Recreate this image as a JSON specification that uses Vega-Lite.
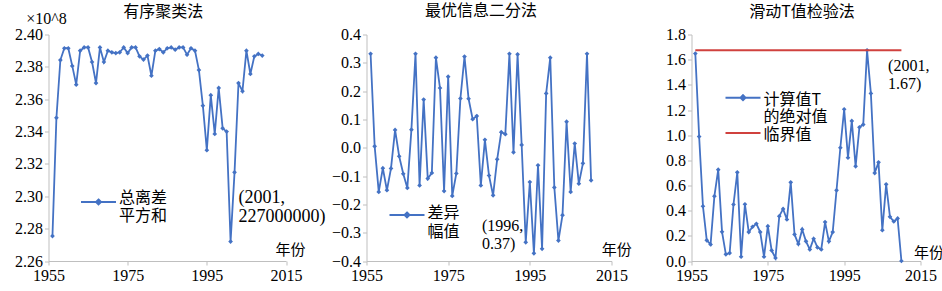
{
  "$schema": "https://vega.github.io/schema/vega-lite/v6.json",
  "background": "white",
  "padding": {"left": 14.5, "top": 2.5, "right": 0, "bottom": 0},
  "bounds": "flush",
  "spacing": 80,
  "resolve": {"scale": {"color": "independent", "stroke": "independent"}, "legend": {"color": "independent", "stroke": "independent"}},
  "config": {
    "view": {"stroke": null},
    "font": "Times New Roman, Liberation Serif, serif",
    "axis": {"domainColor": "#BFBFBF", "tickColor": "#BFBFBF", "tickSize": 4, "grid": false, "labelFont": "Times New Roman, Liberation Serif, serif", "labelFontSize": 16, "labelColor": "#000000", "labelPadding": 2, "labelFlush": false, "labelOverlap": false, "titleFontWeight": "normal", "titleColor": "#000000"},
    "title": {"font": "Noto Sans CJK SC", "fontSize": 16, "fontWeight": "normal", "color": "#000000"},
    "legend": {"labelFont": "Noto Sans CJK SC", "labelFontSize": 16, "labelColor": "#000000", "labelLimit": 0, "labelOffset": 2, "padding": 0, "symbolSize": 1225, "symbolStrokeWidth": 2, "rowPadding": 4}
  },
  "datasets": {
    "p1": [
      {"year": 1956, "value": 2.2754, "series": "总离差|平方和"},
      {"year": 1957, "value": 2.3485, "series": "总离差|平方和"},
      {"year": 1958, "value": 2.3842, "series": "总离差|平方和"},
      {"year": 1959, "value": 2.3915, "series": "总离差|平方和"},
      {"year": 1960, "value": 2.3915, "series": "总离差|平方和"},
      {"year": 1961, "value": 2.3806, "series": "总离差|平方和"},
      {"year": 1962, "value": 2.3690, "series": "总离差|平方和"},
      {"year": 1963, "value": 2.3900, "series": "总离差|平方和"},
      {"year": 1964, "value": 2.3920, "series": "总离差|平方和"},
      {"year": 1965, "value": 2.3920, "series": "总离差|平方和"},
      {"year": 1966, "value": 2.3830, "series": "总离差|平方和"},
      {"year": 1967, "value": 2.3700, "series": "总离差|平方和"},
      {"year": 1968, "value": 2.3920, "series": "总离差|平方和"},
      {"year": 1969, "value": 2.3830, "series": "总离差|平方和"},
      {"year": 1970, "value": 2.3900, "series": "总离差|平方和"},
      {"year": 1971, "value": 2.3890, "series": "总离差|平方和"},
      {"year": 1972, "value": 2.3885, "series": "总离差|平方和"},
      {"year": 1973, "value": 2.3890, "series": "总离差|平方和"},
      {"year": 1974, "value": 2.3920, "series": "总离差|平方和"},
      {"year": 1975, "value": 2.3885, "series": "总离差|平方和"},
      {"year": 1976, "value": 2.3920, "series": "总离差|平方和"},
      {"year": 1977, "value": 2.3920, "series": "总离差|平方和"},
      {"year": 1978, "value": 2.3865, "series": "总离差|平方和"},
      {"year": 1979, "value": 2.3845, "series": "总离差|平方和"},
      {"year": 1980, "value": 2.3870, "series": "总离差|平方和"},
      {"year": 1981, "value": 2.3745, "series": "总离差|平方和"},
      {"year": 1982, "value": 2.3900, "series": "总离差|平方和"},
      {"year": 1983, "value": 2.3910, "series": "总离差|平方和"},
      {"year": 1984, "value": 2.3890, "series": "总离差|平方和"},
      {"year": 1985, "value": 2.3915, "series": "总离差|平方和"},
      {"year": 1986, "value": 2.3920, "series": "总离差|平方和"},
      {"year": 1987, "value": 2.3906, "series": "总离差|平方和"},
      {"year": 1988, "value": 2.3920, "series": "总离差|平方和"},
      {"year": 1989, "value": 2.3920, "series": "总离差|平方和"},
      {"year": 1990, "value": 2.3875, "series": "总离差|平方和"},
      {"year": 1991, "value": 2.3915, "series": "总离差|平方和"},
      {"year": 1992, "value": 2.3900, "series": "总离差|平方和"},
      {"year": 1993, "value": 2.3780, "series": "总离差|平方和"},
      {"year": 1994, "value": 2.3560, "series": "总离差|平方和"},
      {"year": 1995, "value": 2.3285, "series": "总离差|平方和"},
      {"year": 1996, "value": 2.3625, "series": "总离差|平方和"},
      {"year": 1997, "value": 2.3385, "series": "总离差|平方和"},
      {"year": 1998, "value": 2.3670, "series": "总离差|平方和"},
      {"year": 1999, "value": 2.3420, "series": "总离差|平方和"},
      {"year": 2000, "value": 2.3400, "series": "总离差|平方和"},
      {"year": 2001, "value": 2.2720, "series": "总离差|平方和"},
      {"year": 2002, "value": 2.3148, "series": "总离差|平方和"},
      {"year": 2003, "value": 2.3700, "series": "总离差|平方和"},
      {"year": 2004, "value": 2.3650, "series": "总离差|平方和"},
      {"year": 2005, "value": 2.3900, "series": "总离差|平方和"},
      {"year": 2006, "value": 2.3756, "series": "总离差|平方和"},
      {"year": 2007, "value": 2.3865, "series": "总离差|平方和"},
      {"year": 2008, "value": 2.3880, "series": "总离差|平方和"},
      {"year": 2009, "value": 2.3870, "series": "总离差|平方和"}
    ],
    "p2": [
      {"year": 1956, "value": 0.332, "series": "差异|幅值"},
      {"year": 1957, "value": 0.005, "series": "差异|幅值"},
      {"year": 1958, "value": -0.156, "series": "差异|幅值"},
      {"year": 1959, "value": -0.072, "series": "差异|幅值"},
      {"year": 1960, "value": -0.150, "series": "差异|幅值"},
      {"year": 1961, "value": -0.073, "series": "差异|幅值"},
      {"year": 1962, "value": 0.063, "series": "差异|幅值"},
      {"year": 1963, "value": -0.030, "series": "差异|幅值"},
      {"year": 1964, "value": -0.092, "series": "差异|幅值"},
      {"year": 1965, "value": -0.142, "series": "差异|幅值"},
      {"year": 1966, "value": 0.064, "series": "差异|幅值"},
      {"year": 1967, "value": 0.332, "series": "差异|幅值"},
      {"year": 1968, "value": -0.133, "series": "差异|幅值"},
      {"year": 1969, "value": 0.170, "series": "差异|幅值"},
      {"year": 1970, "value": -0.109, "series": "差异|幅值"},
      {"year": 1971, "value": -0.089, "series": "差异|幅值"},
      {"year": 1972, "value": 0.318, "series": "差异|幅值"},
      {"year": 1973, "value": 0.211, "series": "差异|幅值"},
      {"year": 1974, "value": -0.153, "series": "差异|幅值"},
      {"year": 1975, "value": 0.251, "series": "差异|幅值"},
      {"year": 1976, "value": -0.170, "series": "差异|幅值"},
      {"year": 1977, "value": -0.091, "series": "差异|幅值"},
      {"year": 1978, "value": 0.174, "series": "差异|幅值"},
      {"year": 1979, "value": 0.322, "series": "差异|幅值"},
      {"year": 1980, "value": 0.173, "series": "差异|幅值"},
      {"year": 1981, "value": 0.101, "series": "差异|幅值"},
      {"year": 1982, "value": 0.112, "series": "差异|幅值"},
      {"year": 1983, "value": -0.133, "series": "差异|幅值"},
      {"year": 1984, "value": 0.028, "series": "差异|幅值"},
      {"year": 1985, "value": -0.098, "series": "差异|幅值"},
      {"year": 1986, "value": -0.168, "series": "差异|幅值"},
      {"year": 1987, "value": -0.041, "series": "差异|幅值"},
      {"year": 1988, "value": 0.055, "series": "差异|幅值"},
      {"year": 1989, "value": 0.048, "series": "差异|幅值"},
      {"year": 1990, "value": 0.332, "series": "差异|幅值"},
      {"year": 1991, "value": -0.016, "series": "差异|幅值"},
      {"year": 1992, "value": 0.330, "series": "差异|幅值"},
      {"year": 1993, "value": 0.010, "series": "差异|幅值"},
      {"year": 1994, "value": -0.334, "series": "差异|幅值"},
      {"year": 1995, "value": -0.121, "series": "差异|幅值"},
      {"year": 1996, "value": -0.373, "series": "差异|幅值"},
      {"year": 1997, "value": -0.062, "series": "差异|幅值"},
      {"year": 1998, "value": -0.357, "series": "差异|幅值"},
      {"year": 1999, "value": 0.192, "series": "差异|幅值"},
      {"year": 2000, "value": 0.318, "series": "差异|幅值"},
      {"year": 2001, "value": -0.140, "series": "差异|幅值"},
      {"year": 2002, "value": -0.328, "series": "差异|幅值"},
      {"year": 2003, "value": -0.238, "series": "差异|幅值"},
      {"year": 2004, "value": 0.092, "series": "差异|幅值"},
      {"year": 2005, "value": -0.156, "series": "差异|幅值"},
      {"year": 2006, "value": 0.015, "series": "差异|幅值"},
      {"year": 2007, "value": -0.127, "series": "差异|幅值"},
      {"year": 2008, "value": -0.055, "series": "差异|幅值"},
      {"year": 2009, "value": 0.332, "series": "差异|幅值"},
      {"year": 2010, "value": -0.115, "series": "差异|幅值"}
    ],
    "p3": [
      {"year": 1956, "value": 1.649, "series": "计算值T|的绝对值"},
      {"year": 1957, "value": 0.989, "series": "计算值T|的绝对值"},
      {"year": 1958, "value": 0.435, "series": "计算值T|的绝对值"},
      {"year": 1959, "value": 0.164, "series": "计算值T|的绝对值"},
      {"year": 1960, "value": 0.132, "series": "计算值T|的绝对值"},
      {"year": 1961, "value": 0.515, "series": "计算值T|的绝对值"},
      {"year": 1962, "value": 0.726, "series": "计算值T|的绝对值"},
      {"year": 1963, "value": 0.232, "series": "计算值T|的绝对值"},
      {"year": 1964, "value": 0.053, "series": "计算值T|的绝对值"},
      {"year": 1965, "value": 0.063, "series": "计算值T|的绝对值"},
      {"year": 1966, "value": 0.449, "series": "计算值T|的绝对值"},
      {"year": 1967, "value": 0.705, "series": "计算值T|的绝对值"},
      {"year": 1968, "value": 0.034, "series": "计算值T|的绝对值"},
      {"year": 1969, "value": 0.451, "series": "计算值T|的绝对值"},
      {"year": 1970, "value": 0.230, "series": "计算值T|的绝对值"},
      {"year": 1971, "value": 0.272, "series": "计算值T|的绝对值"},
      {"year": 1972, "value": 0.296, "series": "计算值T|的绝对值"},
      {"year": 1973, "value": 0.230, "series": "计算值T|的绝对值"},
      {"year": 1974, "value": 0.034, "series": "计算值T|的绝对值"},
      {"year": 1975, "value": 0.277, "series": "计算值T|的绝对值"},
      {"year": 1976, "value": 0.084, "series": "计算值T|的绝对值"},
      {"year": 1977, "value": 0.024, "series": "计算值T|的绝对值"},
      {"year": 1978, "value": 0.356, "series": "计算值T|的绝对值"},
      {"year": 1979, "value": 0.414, "series": "计算值T|的绝对值"},
      {"year": 1980, "value": 0.330, "series": "计算值T|的绝对值"},
      {"year": 1981, "value": 0.625, "series": "计算值T|的绝对值"},
      {"year": 1982, "value": 0.211, "series": "计算值T|的绝对值"},
      {"year": 1983, "value": 0.135, "series": "计算值T|的绝对值"},
      {"year": 1984, "value": 0.251, "series": "计算值T|的绝对值"},
      {"year": 1985, "value": 0.156, "series": "计算值T|的绝对值"},
      {"year": 1986, "value": 0.092, "series": "计算值T|的绝对值"},
      {"year": 1987, "value": 0.177, "series": "计算值T|的绝对值"},
      {"year": 1988, "value": 0.108, "series": "计算值T|的绝对值"},
      {"year": 1989, "value": 0.092, "series": "计算值T|的绝对值"},
      {"year": 1990, "value": 0.309, "series": "计算值T|的绝对值"},
      {"year": 1991, "value": 0.156, "series": "计算值T|的绝对值"},
      {"year": 1992, "value": 0.230, "series": "计算值T|的绝对值"},
      {"year": 1993, "value": 0.562, "series": "计算值T|的绝对值"},
      {"year": 1994, "value": 0.900, "series": "计算值T|的绝对值"},
      {"year": 1995, "value": 1.206, "series": "计算值T|的绝对值"},
      {"year": 1996, "value": 0.821, "series": "计算值T|的绝对值"},
      {"year": 1997, "value": 1.113, "series": "计算值T|的绝对值"},
      {"year": 1998, "value": 0.752, "series": "计算值T|的绝对值"},
      {"year": 1999, "value": 1.063, "series": "计算值T|的绝对值"},
      {"year": 2000, "value": 1.084, "series": "计算值T|的绝对值"},
      {"year": 2001, "value": 1.675, "series": "计算值T|的绝对值"},
      {"year": 2002, "value": 1.332, "series": "计算值T|的绝对值"},
      {"year": 2003, "value": 0.699, "series": "计算值T|的绝对值"},
      {"year": 2004, "value": 0.784, "series": "计算值T|的绝对值"},
      {"year": 2005, "value": 0.245, "series": "计算值T|的绝对值"},
      {"year": 2006, "value": 0.609, "series": "计算值T|的绝对值"},
      {"year": 2007, "value": 0.351, "series": "计算值T|的绝对值"},
      {"year": 2008, "value": 0.314, "series": "计算值T|的绝对值"},
      {"year": 2009, "value": 0.338, "series": "计算值T|的绝对值"},
      {"year": 2010, "value": 0.000, "series": "计算值T|的绝对值"}
    ],
    "p3c": [
      {"year": 1956, "value": 1.675, "series": "临界值"},
      {"year": 2010, "value": 1.675, "series": "临界值"}
    ],
    "a1": [{"year": 2001, "value": 2.272, "label": "(2001,\n227000000)"}],
    "a2": [{"year": 1996, "value": -0.373, "label": "(1996,\n0.37)"}],
    "a3": [{"year": 2001, "value": 1.675, "label": "(2001,\n1.67)"}]
  },
  "hconcat": [
    {
      "width": 237.5,
      "height": 226.5,
      "title": {"text": "有序聚类法", "frame": "group", "anchor": "middle", "dx": -4, "dy": 17.5, "offset": 8},
      "layer": [
        {
          "data": {"name": "p1"},
          "mark": {"type": "line", "strokeWidth": 1.8},
          "encoding": {
            "x": {"field": "year", "type": "quantitative", "scale": {"domain": [1955, 2015], "nice": false, "zero": false},
              "axis": {"values": [1955, 1975, 1995, 2015], "tickCount": 12, "format": "d", "labelOverlap": false, "labelFlush": false, "title": "年份", "titleFont": "Noto Sans CJK SC", "titleFontSize": 15, "titleX": 226.5, "titleY": -4, "titleAlign": "left", "titleBaseline": "bottom"}},
            "y": {"field": "value", "type": "quantitative", "scale": {"domain": [2.26, 2.40], "nice": false, "zero": false},
              "axis": {"values": [2.26, 2.28, 2.30, 2.32, 2.34, 2.36, 2.38, 2.40], "tickCount": 20, "format": ".2f", "labelOverlap": false, "title": "×10^8", "titleFont": "Times New Roman, Liberation Serif, serif", "titleFontSize": 16, "titleAngle": 0, "titleX": -2.5, "titleY": -16.5, "titleAlign": "center", "titleBaseline": "middle"}},
            "color": {"field": "series", "type": "nominal", "scale": {"domain": ["总离差|平方和"], "range": ["#4472C4"]},
              "legend": {"orient": "none", "legendX": 31.5, "legendY": 149, "title": null, "labelExpr": "split(datum.label, '|')", "symbolType": "M-1,0H1M0,-0.14L0.14,0L0,0.14L-0.14,0Z",
                "encode": {"symbols": {"update": {"fill": {"value": "#4472C4"}, "stroke": {"value": "#4472C4"}}}, "labels": {"update": {"dy": {"value": -4}, "lineHeight": {"value": 18}, "fill": {"value": "#000000"}}}}}}
          }
        },
        {
          "data": {"name": "p1"},
          "mark": {"type": "point", "shape": "diamond", "filled": true, "size": 22, "opacity": 1},
          "encoding": {
            "x": {"field": "year", "type": "quantitative"},
            "y": {"field": "value", "type": "quantitative"},
            "color": {"field": "series", "type": "nominal"}
          }
        },
        {
          "data": {"name": "a1"},
          "mark": {"type": "text", "align": "left", "baseline": "top", "dx": 8, "dy": -53, "lineBreak": "\n", "font": "Times New Roman, Liberation Serif, serif", "fontSize": 18, "lineHeight": 19, "color": "#000000"},
          "encoding": {
            "x": {"field": "year", "type": "quantitative"},
            "y": {"field": "value", "type": "quantitative"},
            "text": {"field": "label"}
          }
        }
      ]
    },
    {
      "width": 245,
      "height": 226.5,
      "title": {"text": "最优信息二分法", "frame": "group", "anchor": "middle", "dx": -8, "dy": 0, "offset": 8},
      "layer": [
        {
          "data": {"name": "p2"},
          "mark": {"type": "line", "strokeWidth": 1.8},
          "encoding": {
            "x": {"field": "year", "type": "quantitative", "scale": {"domain": [1955, 2015], "nice": false, "zero": false},
              "axis": {"values": [1955, 1975, 1995, 2015], "tickCount": 12, "format": "d", "labelOverlap": false, "labelFlush": false, "title": "年份", "titleFont": "Noto Sans CJK SC", "titleFontSize": 15, "titleX": 234.7, "titleY": -4, "titleAlign": "left", "titleBaseline": "bottom"}},
            "y": {"field": "value", "type": "quantitative", "scale": {"domain": [-0.4, 0.4], "nice": false, "zero": false},
              "axis": {"values": [-0.4, -0.3, -0.2, -0.1, 0, 0.1, 0.2, 0.3, 0.4], "tickCount": 20, "format": ".1f", "labelOverlap": false, "title": null}},
            "color": {"field": "series", "type": "nominal", "scale": {"domain": ["差异|幅值"], "range": ["#4472C4"]},
              "legend": {"orient": "none", "legendX": 22, "legendY": 162, "title": null, "labelExpr": "split(datum.label, '|')", "symbolType": "M-1,0H1M0,-0.14L0.14,0L0,0.14L-0.14,0Z",
                "encode": {"symbols": {"update": {"fill": {"value": "#4472C4"}, "stroke": {"value": "#4472C4"}}}, "labels": {"update": {"dy": {"value": -2}, "lineHeight": {"value": 19}, "fill": {"value": "#000000"}}}}}}
          }
        },
        {
          "data": {"name": "p2"},
          "mark": {"type": "point", "shape": "diamond", "filled": true, "size": 22, "opacity": 1},
          "encoding": {
            "x": {"field": "year", "type": "quantitative"},
            "y": {"field": "value", "type": "quantitative"},
            "color": {"field": "series", "type": "nominal"}
          }
        },
        {
          "data": {"name": "a2"},
          "mark": {"type": "text", "align": "left", "baseline": "top", "dx": -52, "dy": -35, "lineBreak": "\n", "font": "Times New Roman, Liberation Serif, serif", "fontSize": 16, "lineHeight": 18, "color": "#000000"},
          "encoding": {
            "x": {"field": "year", "type": "quantitative"},
            "y": {"field": "value", "type": "quantitative"},
            "text": {"field": "label"}
          }
        }
      ]
    },
    {
      "width": 229,
      "height": 226.5,
      "title": {"text": "滑动T值检验法", "frame": "group", "anchor": "middle", "dx": -4, "dy": 1.5, "offset": 8},
      "layer": [
        {
          "data": {"name": "p3"},
          "mark": {"type": "line", "strokeWidth": 1.8},
          "encoding": {
            "x": {"field": "year", "type": "quantitative", "scale": {"domain": [1955, 2015], "nice": false, "zero": false},
              "axis": {"values": [1955, 1975, 1995, 2015], "tickCount": 12, "format": "d", "labelOverlap": false, "labelFlush": false, "title": "年份", "titleFont": "Noto Sans CJK SC", "titleFontSize": 15, "titleX": 222, "titleY": -1, "titleAlign": "left", "titleBaseline": "bottom"}},
            "y": {"field": "value", "type": "quantitative", "scale": {"domain": [0, 1.8], "nice": false, "zero": false},
              "axis": {"values": [0, 0.2, 0.4, 0.6, 0.8, 1.0, 1.2, 1.4, 1.6, 1.8], "tickCount": 20, "format": ".1f", "labelOverlap": false, "title": null}},
            "color": {"field": "series", "type": "nominal", "scale": {"domain": ["计算值T|的绝对值"], "range": ["#4472C4"]},
              "legend": {"orient": "none", "legendX": 33, "legendY": 44.7, "title": null, "labelExpr": "split(datum.label, '|')", "symbolType": "M-1,0H1M0,-0.14L0.14,0L0,0.14L-0.14,0Z",
                "encode": {"symbols": {"update": {"fill": {"value": "#4472C4"}, "stroke": {"value": "#4472C4"}}}, "labels": {"update": {"dy": {"value": 2}, "lineHeight": {"value": 17}, "fill": {"value": "#000000"}}}}}}
          }
        },
        {
          "data": {"name": "p3"},
          "mark": {"type": "point", "shape": "diamond", "filled": true, "size": 22, "opacity": 1},
          "encoding": {
            "x": {"field": "year", "type": "quantitative"},
            "y": {"field": "value", "type": "quantitative"},
            "color": {"field": "series", "type": "nominal"}
          }
        },
        {
          "data": {"name": "p3c"},
          "mark": {"type": "line", "strokeWidth": 1.8},
          "encoding": {
            "x": {"field": "year", "type": "quantitative"},
            "y": {"field": "value", "type": "quantitative"},
            "stroke": {"field": "series", "type": "nominal", "scale": {"domain": ["临界值"], "range": ["#D0413E"]},
              "legend": {"orient": "none", "legendX": 33, "legendY": 80, "title": null, "symbolType": "stroke",
                "encode": {"symbols": {"update": {"fill": {"value": "transparent"}, "stroke": {"value": "#D0413E"}}}, "labels": {"update": {"dy": {"value": 2}, "fill": {"value": "#000000"}}}}}}
          }
        },
        {
          "data": {"name": "a3"},
          "mark": {"type": "text", "align": "left", "baseline": "top", "dx": 21, "dy": 8, "lineBreak": "\n", "font": "Times New Roman, Liberation Serif, serif", "fontSize": 16, "lineHeight": 18, "color": "#000000"},
          "encoding": {
            "x": {"field": "year", "type": "quantitative"},
            "y": {"field": "value", "type": "quantitative"},
            "text": {"field": "label"}
          }
        }
      ]
    }
  ]
}
